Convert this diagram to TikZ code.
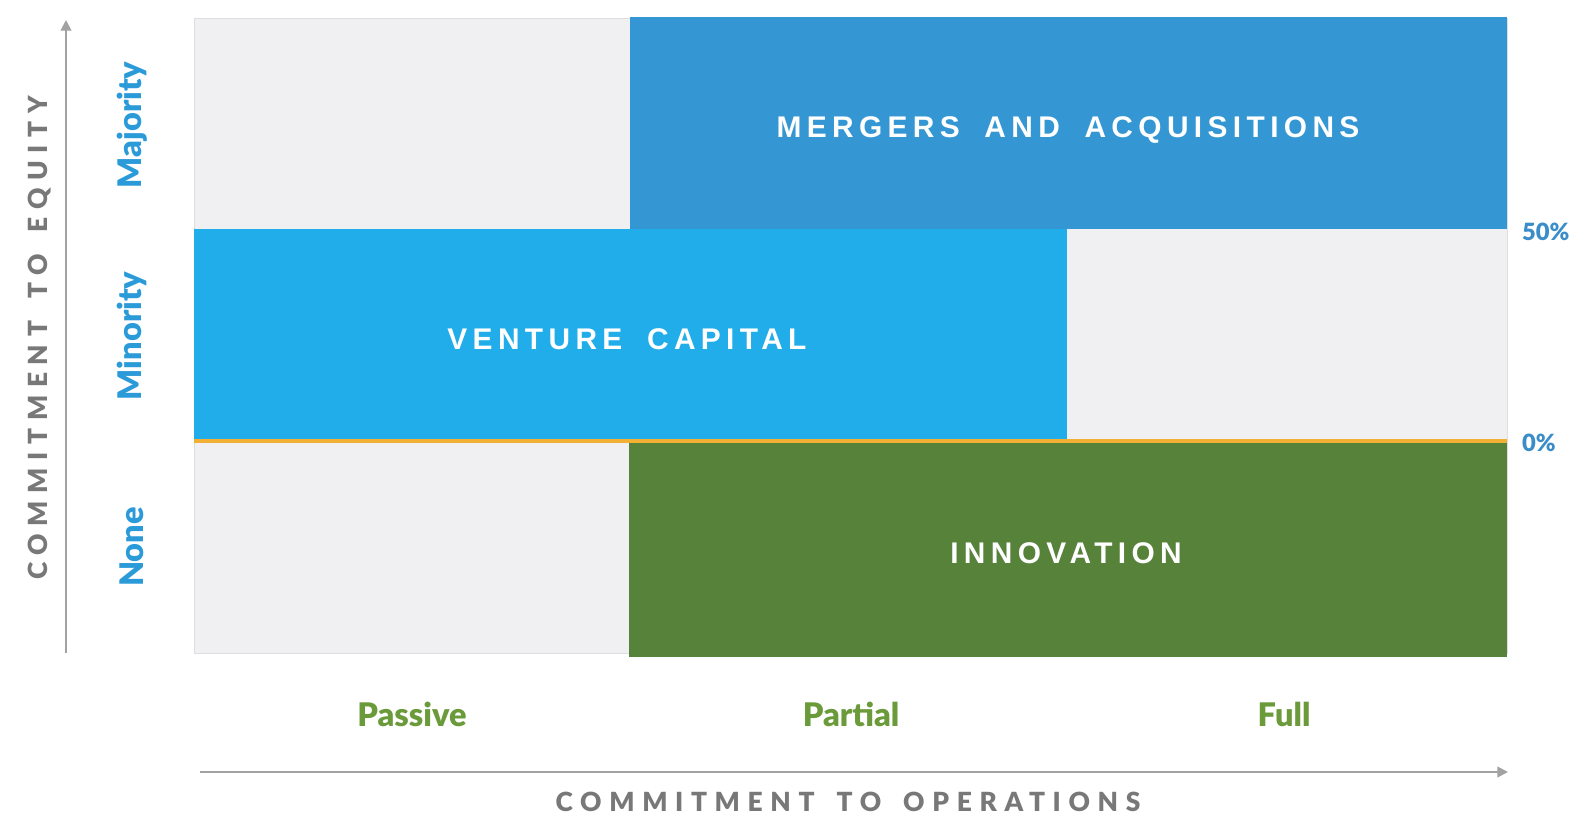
\documentclass[tikz,border=0pt]{standalone}
\usepackage{fontspec}
\setsansfont{Lato}
\newfontfamily\heavyfont{Lato Black}
\newfontfamily\boxfont[LetterSpace=18,WordSpace=1.8]{Liberation Sans}
\newfontfamily\axisfont[LetterSpace=29,WordSpace=1.6]{Lato Black}
\usetikzlibrary{arrows.meta}

\definecolor{panelgrey}{HTML}{F0F0F2}
\definecolor{panelline}{HTML}{DEDEE0}
\definecolor{mnablue}{HTML}{3497D3}
\definecolor{vcblue}{HTML}{20ADE9}
\definecolor{innogreen}{HTML}{56823A}
\definecolor{zeroline}{HTML}{F2B134}
\definecolor{levelblue}{HTML}{2A9AD8}
\definecolor{pctblue}{HTML}{3A8DC8}
\definecolor{opsgreen}{HTML}{6A9A3A}
\definecolor{titlegrey}{HTML}{787878}
\definecolor{arrowgrey}{HTML}{A2A2A2}

\tikzset{
  boxlabel/.style={font=\boxfont\bfseries\fontsize{17}{19}\selectfont, text=white},
  levellabel/.style={font=\heavyfont\fontsize{18.5}{20}\selectfont, text=levelblue, rotate=90},
  opslabel/.style={font=\heavyfont\fontsize{18.5}{20}\selectfont, text=opsgreen},
  pctlabel/.style={font=\heavyfont\fontsize{13.5}{15}\selectfont, text=pctblue, anchor=west},
  axistitle/.style={font=\axisfont\fontsize{15}{17}\selectfont, text=titlegrey},
  axisarrow/.style={draw=arrowgrey, line width=1.1pt, -{Triangle[length=6pt,width=6pt]}}
}

\begin{document}
\begin{tikzpicture}[x=0.02cm,y=-0.02cm]
    \useasboundingbox (0,0) rectangle (1588,821);
    % Grey panel
    \draw[draw=panelline, fill=panelgrey] (194,18) rectangle (1507,653);
    % Mergers and acquisitions
    \fill[mnablue] (630,17) rectangle (1507,229);
    \node[boxlabel] (mna) at (1068,130) {MERGERS AND ACQUISITIONS};
    % Venture capital
    \fill[vcblue] (194,229) rectangle (1067,441);
    \node[boxlabel] (vc) at (627,339) {VENTURE CAPITAL};
    % Innovation
    \fill[innogreen] (629,443) rectangle (1507,657);
    \node[boxlabel] (innov) at (1066,553) {INNOVATION};
    % Zero line
    \draw[zeroline, line width=2.2pt] (194,441) -- (1507,441);
    % Equity levels
    \node[levellabel] (majority) at (132,125) {Majority};
    \node[levellabel] (minority) at (132,336) {Minority};
    \node[levellabel] (none) at (132,547) {None};
    \node[pctlabel] (fifty) at (1516,232) {50\%};
    \node[pctlabel] (zero) at (1516,443) {0\%};
    % Operations levels
    \node[opslabel] (passive) at (412,714) {Passive};
    \node[opslabel] (partial) at (851,714) {Partial};
    \node[opslabel] (full) at (1284,714) {Full};
    % Axes
    \coordinate (ybot) at (66,653);
    \coordinate (ytop) at (66,20);
    \draw[axisarrow] (ybot) -- (ytop);
    \node[axistitle, rotate=90] (equity) at (40,338) {COMMITMENT TO EQUITY};
    \coordinate (xleft) at (200,772);
    \coordinate (xright) at (1508,772);
    \draw[axisarrow] (xleft) -- (xright);
    \node[axistitle] (operations) at (848,802) {COMMITMENT TO OPERATIONS};
\end{tikzpicture}
\end{document}
